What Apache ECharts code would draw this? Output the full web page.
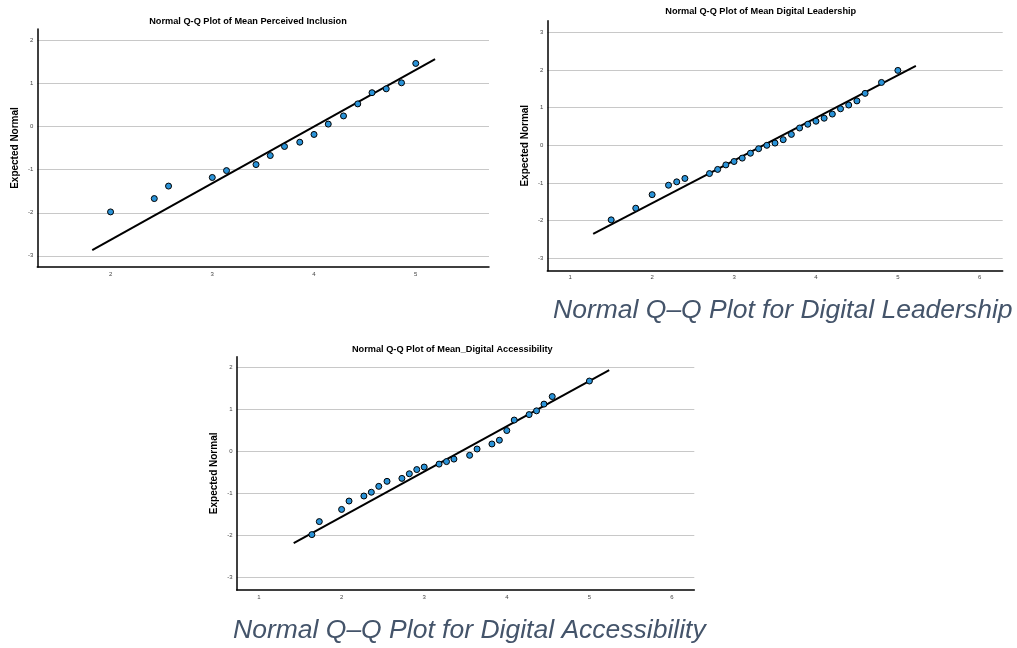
<!DOCTYPE html>
<html>
<head>
<meta charset="utf-8">
<script src="https://cdn.jsdelivr.net/npm/echarts@6/dist/echarts.min.js"></script>
<style>
html,body{margin:0;padding:0;background:#fff;}
#c{width:1017px;height:648px;}
</style>
</head>
<body>
<div id="c"></div>
<script>
// ---- Chart 1: Mean Perceived Inclusion ----
const piTitle = 'Normal Q-Q Plot of Mean Perceived Inclusion';
const piX = [2.00,2.43,2.57,3.00,3.14,3.43,3.57,3.71,3.86,4.00,4.14,4.29,4.43,4.57,4.71,4.86,5.00];
const piY = [-1.98,-1.67,-1.38,-1.18,-1.02,-0.88,-0.67,-0.46,-0.36,-0.18,0.06,0.25,0.53,0.79,0.88,1.02,1.47];
const piLineX = [1.82,5.19];
const piLineY = [-2.87,1.57];
const piXTicks = [2,3,4,5];
const piYTicks = [-3,-2,-1,0,1,2];

// ---- Chart 2: Mean Digital Leadership ----
const dlTitle = 'Normal Q-Q Plot of Mean Digital Leadership';
const dlX = [1.5,1.8,2.0,2.2,2.3,2.4,2.7,2.8,2.9,3.0,3.1,3.2,3.3,3.4,3.5,3.6,3.7,3.8,3.9,4.0,4.1,4.2,4.3,4.4,4.5,4.6,4.8,5.0];
const dlY = [-1.98,-1.67,-1.31,-1.06,-0.97,-0.88,-0.75,-0.64,-0.52,-0.43,-0.34,-0.21,-0.09,0.00,0.06,0.15,0.29,0.46,0.56,0.64,0.72,0.83,0.97,1.07,1.18,1.38,1.67,1.99];
const dlLineX = [1.28,5.22];
const dlLineY = [-2.35,2.11];
const dlXTicks = [1,2,3,4,5,6];
const dlYTicks = [-3,-2,-1,0,1,2,3];

// ---- Chart 3: Mean_Digital Accessibility ----
const daTitle = 'Normal Q-Q Plot of Mean_Digital Accessibility';
const daX = [1.64,1.73,2.00,2.09,2.27,2.36,2.45,2.55,2.73,2.82,2.91,3.00,3.18,3.27,3.36,3.55,3.64,3.82,3.91,4.00,4.09,4.27,4.36,4.45,4.55,5.00];
const daY = [-1.98,-1.67,-1.38,-1.18,-1.06,-0.97,-0.83,-0.71,-0.64,-0.53,-0.43,-0.37,-0.30,-0.24,-0.18,-0.09,0.06,0.18,0.27,0.50,0.75,0.88,0.97,1.13,1.31,1.68];
const daLineX = [1.42,5.24];
const daLineY = [-2.18,1.94];
const daXTicks = [1,2,3,4,5,6];
const daYTicks = [-3,-2,-1,0,1,2];

const yName = 'Expected Normal';
const caption1 = 'Normal Q\u2013Q Plot for Digital Leadership';
const caption2 = 'Normal Q\u2013Q Plot for Digital Accessibility';

const FONT = '"Liberation Sans", Arial, sans-serif';

const panels = [
  {title: piTitle, x: piX, y: piY, lx: piLineX, ly: piLineY, xt: piXTicks, yt: piYTicks,
   grid: {left: 37.3, top: 29, width: 451.7, height: 238}, xr: [1.28, 5.72], yr: [-3.26, 2.27], tc: [248, 21]},
  {title: dlTitle, x: dlX, y: dlY, lx: dlLineX, ly: dlLineY, xt: dlXTicks, yt: dlYTicks,
   grid: {left: 547.3, top: 20.7, width: 455.4, height: 250}, xr: [0.72, 6.28], yr: [-3.33, 3.31], tc: [760.7, 11]},
  {title: daTitle, x: daX, y: daY, lx: daLineX, ly: daLineY, xt: daXTicks, yt: daYTicks,
   grid: {left: 236.7, top: 356.7, width: 457.6, height: 233.3}, xr: [0.73, 6.27], yr: [-3.30, 2.26], tc: [452.3, 349]}
];

const grids = [], xAxes = [], yAxes = [], series = [], graphics = [];
panels.forEach((p, i) => {
  grids.push(Object.assign({containLabel: false}, p.grid));
  xAxes.push({
    type: 'value', gridIndex: i, min: p.xr[0], max: p.xr[1],
    axisLine: {show: true, onZero: false, lineStyle: {color: '#000', width: 1.5}},
    axisTick: {show: false, customValues: p.xt},
    axisLabel: {customValues: p.xt, fontSize: 6, color: '#444', margin: 4, fontFamily: FONT},
    splitLine: {show: false}
  });
  yAxes.push({
    type: 'value', gridIndex: i, min: p.yr[0], max: p.yr[1],
    name: yName, nameLocation: 'middle', nameRotate: 90, nameGap: 17,
    nameTextStyle: {fontSize: 10, fontWeight: 'bold', color: '#000', fontFamily: FONT},
    axisLine: {show: true, onZero: false, lineStyle: {color: '#000', width: 1.5}},
    axisTick: {show: false, customValues: p.yt},
    axisLabel: {customValues: p.yt, fontSize: 6, color: '#444', margin: 4, fontFamily: FONT},
    splitLine: {show: true, lineStyle: {color: '#c8c8c8', width: 1.2}}
  });
  series.push({
    type: 'line', xAxisIndex: i, yAxisIndex: i,
    data: p.lx.map((v, k) => [v, p.ly[k]]),
    symbol: 'none', lineStyle: {color: '#000', width: 2}, silent: true, animation: false, z: 2
  });
  series.push({
    type: 'scatter', xAxisIndex: i, yAxisIndex: i,
    data: p.x.map((v, k) => [v, p.y[k]]),
    symbol: 'circle', symbolSize: 6,
    itemStyle: {color: '#2a93d8', borderColor: '#000', borderWidth: 1, opacity: 1},
    animation: false, z: 3
  });
  graphics.push({
    type: 'text', x: p.tc[0], y: p.tc[1],
    style: {text: p.title, font: 'bold 9.2px ' + FONT, fill: '#000', textAlign: 'center', textVerticalAlign: 'middle'}
  });
});

graphics.push({
  type: 'text', x: 553, y: 311,
  style: {text: caption1, font: 'italic 26.5px ' + FONT, fill: '#44546a', textAlign: 'left', textVerticalAlign: 'middle'}
});
graphics.push({
  type: 'text', x: 233, y: 631,
  style: {text: caption2, font: 'italic 26.5px ' + FONT, fill: '#44546a', textAlign: 'left', textVerticalAlign: 'middle'}
});

const chart = echarts.init(document.getElementById('c'), null, {renderer: 'canvas'});
chart.setOption({
  backgroundColor: '#fff',
  animation: false,
  grid: grids,
  xAxis: xAxes,
  yAxis: yAxes,
  series: series,
  graphic: graphics
});
</script>
</body>
</html>
